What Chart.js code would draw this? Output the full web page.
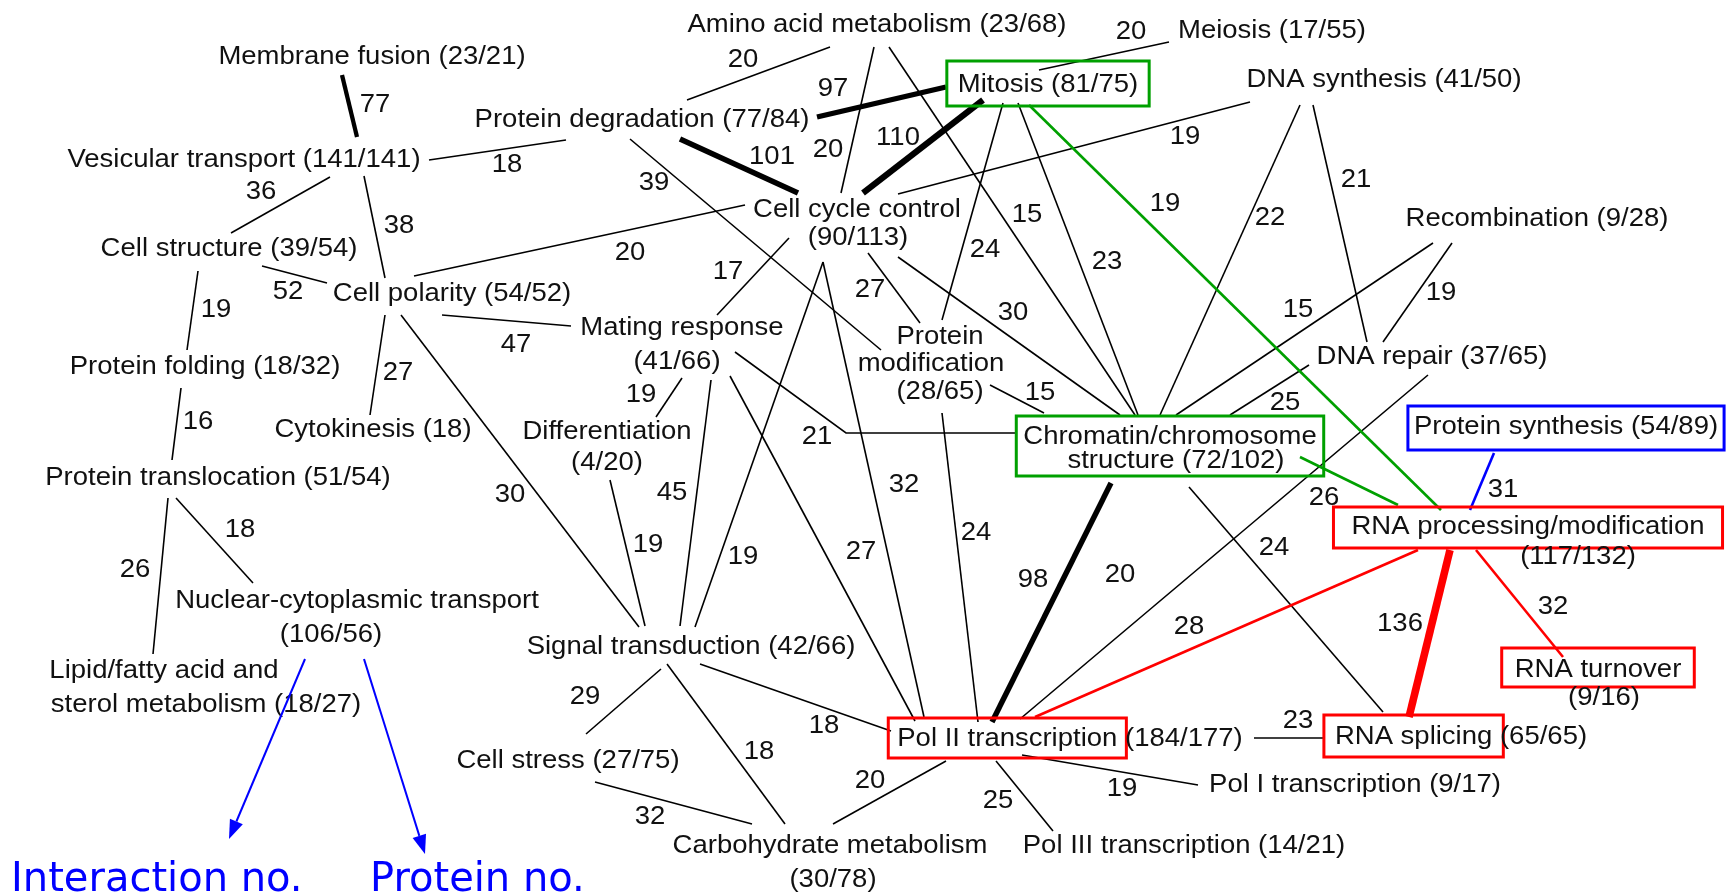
<!DOCTYPE html>
<html><head><meta charset="utf-8">
<script src="https://cdn.jsdelivr.net/npm/chart.js@4.4.1/dist/chart.umd.min.js"></script>
<style>html,body{margin:0;padding:0;background:#fff;overflow:hidden}canvas{display:block}</style>
</head><body>
<canvas id="c" width="1734" height="894"></canvas>
<script>
// ---------------- DATA ----------------
const nodeNames = ['Membrane fusion','Vesicular transport','Protein degradation','Amino acid metabolism','Mitosis','Meiosis','DNA synthesis','Cell structure','Cell polarity','Cell cycle control','Recombination','Protein folding','Mating response','Protein modification','DNA repair','Cytokinesis','Differentiation','Chromatin/chromosome structure','Protein synthesis','Protein translocation','RNA processing/modification','Nuclear-cytoplasmic transport','Lipid/fatty acid and sterol metabolism','Signal transduction','RNA turnover','Pol II transcription','RNA splicing','Cell stress','Pol I transcription','Carbohydrate metabolism','Pol III transcription'];
const nodeInteractions = [23,141,77,23,81,17,41,39,54,90,9,18,41,28,37,18,4,72,54,51,117,106,18,42,9,184,65,27,9,30,14];
const nodeProteins     = [21,141,84,68,75,55,50,54,52,113,28,32,66,65,65,null,20,102,89,54,132,56,27,66,16,177,65,75,17,78,21];

const edgeFrom = ['Membrane fusion','Vesicular transport','Vesicular transport','Vesicular transport','Cell structure','Cell structure','Protein folding','Protein translocation','Protein translocation','Cell polarity','Cell polarity','Cell polarity','Cell polarity','Amino acid metabolism','Amino acid metabolism','Amino acid metabolism','Protein degradation','Protein degradation','Protein degradation','Mitosis','Mitosis','Mitosis','Mitosis','Mitosis','DNA synthesis','DNA synthesis','DNA synthesis','Recombination','Recombination','Cell cycle control','Cell cycle control','Cell cycle control','Cell cycle control','Cell cycle control','Mating response','Mating response','Mating response','Mating response','Differentiation','Protein modification','Protein modification','DNA repair','DNA repair','Chromatin/chromosome structure','Chromatin/chromosome structure','Chromatin/chromosome structure','Protein synthesis','RNA processing/modification','RNA processing/modification','RNA processing/modification','Pol II transcription','Pol II transcription','Pol II transcription','Pol II transcription','Signal transduction','Signal transduction','Signal transduction','Cell stress'];
const edgeTo = ['Vesicular transport','Protein degradation','Cell structure','Cell polarity','Cell polarity','Protein folding','Protein translocation','Nuclear-cytoplasmic transport','Lipid/fatty acid and sterol metabolism','Cell cycle control','Mating response','Cytokinesis','Signal transduction','Protein degradation','Cell cycle control','Chromatin/chromosome structure','Mitosis','Cell cycle control','Protein modification','Cell cycle control','Meiosis','Protein modification','Chromatin/chromosome structure','RNA processing/modification','Cell cycle control','Chromatin/chromosome structure','DNA repair','Chromatin/chromosome structure','DNA repair','Mating response','Protein modification','Chromatin/chromosome structure','Signal transduction','Pol II transcription','Differentiation','Signal transduction','Pol II transcription','Chromatin/chromosome structure','Signal transduction','Chromatin/chromosome structure','Pol II transcription','Chromatin/chromosome structure','Pol II transcription','Pol II transcription','RNA processing/modification','RNA splicing','RNA processing/modification','Pol II transcription','RNA splicing','RNA turnover','RNA splicing','Pol I transcription','Pol III transcription','Carbohydrate metabolism','Pol II transcription','Carbohydrate metabolism','Cell stress','Carbohydrate metabolism'];
const edgeWeights = [77,18,36,38,52,19,16,18,26,20,47,27,30,20,20,15,97,101,39,110,20,24,23,19,19,22,21,15,19,17,27,30,19,32,19,45,27,21,19,15,24,25,20,98,26,24,31,28,136,32,23,19,25,20,18,18,29,32];

const legendLabels = ['Interaction no.', 'Protein no.'];

// ---------------- LAYOUT (chart x/y units) ----------------
const nodeWrap = {
  'Cell cycle control':[3,1], 'Mating response':[2,1], 'Protein modification':[1,1,1],
  'Differentiation':[1,1], 'Nuclear-cytoplasmic transport':[2,1],
  'Lipid/fatty acid and sterol metabolism':[3,3], 'Chromatin/chromosome structure':[1,2],
  'RNA processing/modification':[2,1], 'RNA turnover':[2,1], 'Carbohydrate metabolism':[2,1]
};
const nodeLinePos = {
  'Membrane fusion':[[372,57]], 'Vesicular transport':[[244,160]], 'Protein degradation':[[642,120]],
  'Amino acid metabolism':[[877,25]], 'Mitosis':[[1048,85]], 'Meiosis':[[1272,31]],
  'DNA synthesis':[[1384,80]], 'Cell structure':[[229,249]], 'Cell polarity':[[452,294]],
  'Cell cycle control':[[857,210],[858,238]], 'Recombination':[[1537,219]],
  'Protein folding':[[205,367]], 'Mating response':[[682,328],[677,362]],
  'Protein modification':[[940,337],[931,364],[940,392]], 'DNA repair':[[1432,357]],
  'Cytokinesis':[[373,430]], 'Differentiation':[[607,432],[607,463]],
  'Chromatin/chromosome structure':[[1170,437],[1176,461]], 'Protein synthesis':[[1566,427]],
  'Protein translocation':[[218,478]], 'RNA processing/modification':[[1528,527],[1578,557]],
  'Nuclear-cytoplasmic transport':[[357,601],[331,635]],
  'Lipid/fatty acid and sterol metabolism':[[164,671],[206,705]],
  'Signal transduction':[[691,647]], 'RNA turnover':[[1598,670],[1604,698]],
  'Pol II transcription':[[1070,739]], 'RNA splicing':[[1461,737]], 'Cell stress':[[568,761]],
  'Pol I transcription':[[1355,785]], 'Carbohydrate metabolism':[[830,846],[833,880]],
  'Pol III transcription':[[1184,846]]
};
const GREEN = '#00a000', BLUE = '#0000ff', RED = '#ff0000';
const nodeBox = {
  'Mitosis':{color:GREEN, words:3, padX:11, top:24, bottom:21},
  'Chromatin/chromosome structure':{color:GREEN, words:3, padX:7, top:21, bottom:15},
  'Protein synthesis':{color:BLUE, words:4, padX:6, top:21, bottom:23},
  'RNA processing/modification':{color:RED, words:2, padX:18, top:20, bottom:21},
  'RNA turnover':{color:RED, words:2, padX:13, top:22, bottom:17},
  'RNA splicing':{color:RED, words:2, padX:11, top:22, bottom:20},
  'Pol II transcription':{color:RED, words:3, padX:9, top:21, bottom:19}
};
const edgePath = [
 [[342,75],[357,137]], [[429,160],[566,140]], [[330,177],[231,233]], [[364,176],[385,278]],
 [[262,266],[327,283]], [[198,271],[187,350]], [[181,388],[172,460]], [[176,498],[253,583]],
 [[168,498],[153,654]], [[414,276],[745,205]], [[442,315],[571,326]], [[385,315],[370,415]],
 [[401,315],[639,627]], [[830,47],[687,100]], [[874,47],[841,193]], [[889,47],[1135,415]],
 [[817,117],[946,87]], [[680,139],[798,193]], [[630,139],[881,350]], [[983,100],[863,193]],
 [[1039,70],[1169,42]], [[1003,103],[942,320]], [[1018,103],[1138,415]], [[1029,105],[1441,510]],
 [[1250,102],[898,194]], [[1300,105],[1160,415]], [[1313,105],[1367,342]], [[1433,243],[1176,415]],
 [[1452,243],[1383,342]], [[789,238],[717,315]], [[868,253],[920,323]], [[898,257],[1120,415]],
 [[823,262],[695,627]], [[823,262],[924,717]], [[682,378],[656,417]], [[711,380],[680,626]],
 [[730,376],[915,721]], [[735,352],[846,433],[1015,433]], [[610,480],[645,626]], [[990,385],[1044,413]],
 [[942,413],[978,722]], [[1309,365],[1230,415]], [[1428,375],[1020,719]], [[1111,483],[992,722]],
 [[1300,457],[1398,505]], [[1189,487],[1383,712]], [[1494,453],[1470,510]], [[1418,550],[1035,717]],
 [[1450,550],[1409,717]], [[1476,550],[1563,657]], [[1254,738],[1324,738]], [[1022,755],[1198,785]],
 [[996,761],[1053,831]], [[946,761],[833,824]], [[700,664],[891,731]], [[667,664],[785,824]],
 [[661,669],[586,734]], [[595,782],[752,824]]
];
const edgeLabelPos = [
 [375,105],[507,165],[261,192],[399,226],[288,292],[216,310],[198,422],[240,530],[135,570],[630,253],
 [516,345],[398,373],[510,495],[743,60],[828,150],[1027,215],[833,89],[772,157],[654,183],[898,138],
 [1131,32],[985,250],[1107,262],[1165,204],[1185,137],[1270,218],[1356,180],[1298,310],[1441,293],[728,272],
 [870,290],[1013,313],[743,557],[904,485],[641,395],[672,493],[861,552],[817,437],[648,545],[1040,393],
 [976,533],[1285,403],[1120,575],[1033,580],[1324,498],[1274,548],[1503,490],[1189,627],[1400,624],[1553,607],
 [1298,721],[1122,789],[998,801],[870,781],[824,726],[759,752],[585,697],[650,817]
];
const legendArrows = [[[305,659],[229,839]], [[364,659],[425,854]]];
const legendTextPos = [[11,891],[370,891]];

// ---------------- STYLE ----------------
const FONT = '25px "Liberation Sans", Arial, Helvetica, sans-serif';
const HS = 1.1;             // horizontal stretch of the original lettering
const TEXT = '#111';
const HUB = 'RNA processing/modification';

function countStr(i){
  return nodeProteins[i] == null ? '(' + nodeInteractions[i] + ')' : '(' + nodeInteractions[i] + '/' + nodeProteins[i] + ')';
}
function nodeLines(i){
  const name = nodeNames[i];
  const words = name.split(' ').concat([countStr(i)]);
  const wrap = nodeWrap[name] || [words.length];
  let k = 0;
  return wrap.map(n => { const w = words.slice(k, k + n); k += n; return w; });
}
function edgeColor(i){
  const a = edgeFrom[i], b = edgeTo[i];
  if (a === HUB || b === HUB) { const o = a === HUB ? b : a; return nodeBox[o] ? nodeBox[o].color : '#000'; }
  return '#000';
}
function edgeWidth(i){
  const w = edgeWeights[i];
  if (w >= 70) return w / 18;
  return edgeColor(i) === '#000' ? 1.6 : 2.6;
}

const datasets = edgeWeights.map((w, i) => ({
  label: edgeFrom[i] + ' - ' + edgeTo[i],
  data: edgePath[i].map(p => ({x: p[0], y: p[1]})),
  showLine: true, fill: false, tension: 0,
  borderColor: edgeColor(i), borderWidth: edgeWidth(i),
  borderCapStyle: 'butt', pointRadius: 0, pointHoverRadius: 0,
  clip: false, order: edgeColor(i) === '#000' ? 1 : 0
}));

const netPlugin = {
  id: 'netLabels',
  afterDatasetsDraw(chart) {
    const ctx = chart.ctx, sx = chart.scales.x, sy = chart.scales.y;
    const X = v => sx.getPixelForValue(v), Y = v => sy.getPixelForValue(v);
    const tw = t => { ctx.font = FONT; return ctx.measureText(t).width * HS; };
    const text = (t, px, py) => {
      ctx.save(); ctx.translate(px, py); ctx.scale(HS, 1);
      ctx.font = FONT; ctx.textAlign = 'center'; ctx.textBaseline = 'middle';
      ctx.fillStyle = TEXT; ctx.fillText(t, 0, 0); ctx.restore();
    };
    ctx.save();
    nodeNames.forEach((name, i) => {
      const lines = nodeLines(i), pos = nodeLinePos[name], box = nodeBox[name];
      if (box) {
        let gi = 0, L = Infinity, R = -Infinity, T = Infinity, B = -Infinity;
        lines.forEach((ws, j) => {
          const inBox = Math.max(0, Math.min(ws.length, box.words - gi));
          if (inBox > 0) {
            const full = tw(ws.join(' '));
            const left = X(pos[j][0]) - full / 2;
            const part = tw(ws.slice(0, inBox).join(' '));
            L = Math.min(L, left); R = Math.max(R, left + part);
            T = Math.min(T, Y(pos[j][1] - box.top)); B = Math.max(B, Y(pos[j][1] + box.bottom));
          }
          gi += ws.length;
        });
        ctx.strokeStyle = box.color; ctx.lineWidth = 3;
        ctx.strokeRect(L - box.padX, T, R - L + 2 * box.padX, B - T);
      }
      lines.forEach((ws, j) => text(ws.join(' '), X(pos[j][0]), Y(pos[j][1])));
    });
    edgeWeights.forEach((w, i) => text(String(w), X(edgeLabelPos[i][0]), Y(edgeLabelPos[i][1])));

    // legend arrows + legend words
    ctx.strokeStyle = BLUE; ctx.fillStyle = BLUE; ctx.lineWidth = 2;
    legendArrows.forEach(a => {
      const x0 = X(a[0][0]), y0 = Y(a[0][1]), x1 = X(a[1][0]), y1 = Y(a[1][1]);
      const ang = Math.atan2(y1 - y0, x1 - x0), hl = 19, hw = 7;
      const bx = x1 - hl * Math.cos(ang), by = y1 - hl * Math.sin(ang);
      ctx.beginPath(); ctx.moveTo(x0, y0); ctx.lineTo(bx, by); ctx.stroke();
      ctx.beginPath(); ctx.moveTo(x1, y1);
      ctx.lineTo(bx + hw * Math.sin(ang), by - hw * Math.cos(ang));
      ctx.lineTo(bx - hw * Math.sin(ang), by + hw * Math.cos(ang));
      ctx.closePath(); ctx.fill();
    });
    ctx.font = '40px "DejaVu Sans", Verdana, sans-serif';
    ctx.textAlign = 'left'; ctx.textBaseline = 'alphabetic';
    legendLabels.forEach((t, i) => ctx.fillText(t, X(legendTextPos[i][0]), Y(legendTextPos[i][1])));
    ctx.restore();
  }
};

new Chart(document.getElementById('c'), {
  type: 'scatter',
  data: { datasets },
  options: {
    responsive: false, animation: false, devicePixelRatio: 1,
    layout: { padding: 0 },
    plugins: { legend: { display: false }, tooltip: { enabled: false } },
    events: [],
    scales: {
      x: { type: 'linear', min: 0, max: 1734, display: false },
      y: { type: 'linear', min: 0, max: 894, reverse: true, display: false }
    }
  },
  plugins: [netPlugin]
});
</script>
</body></html>
